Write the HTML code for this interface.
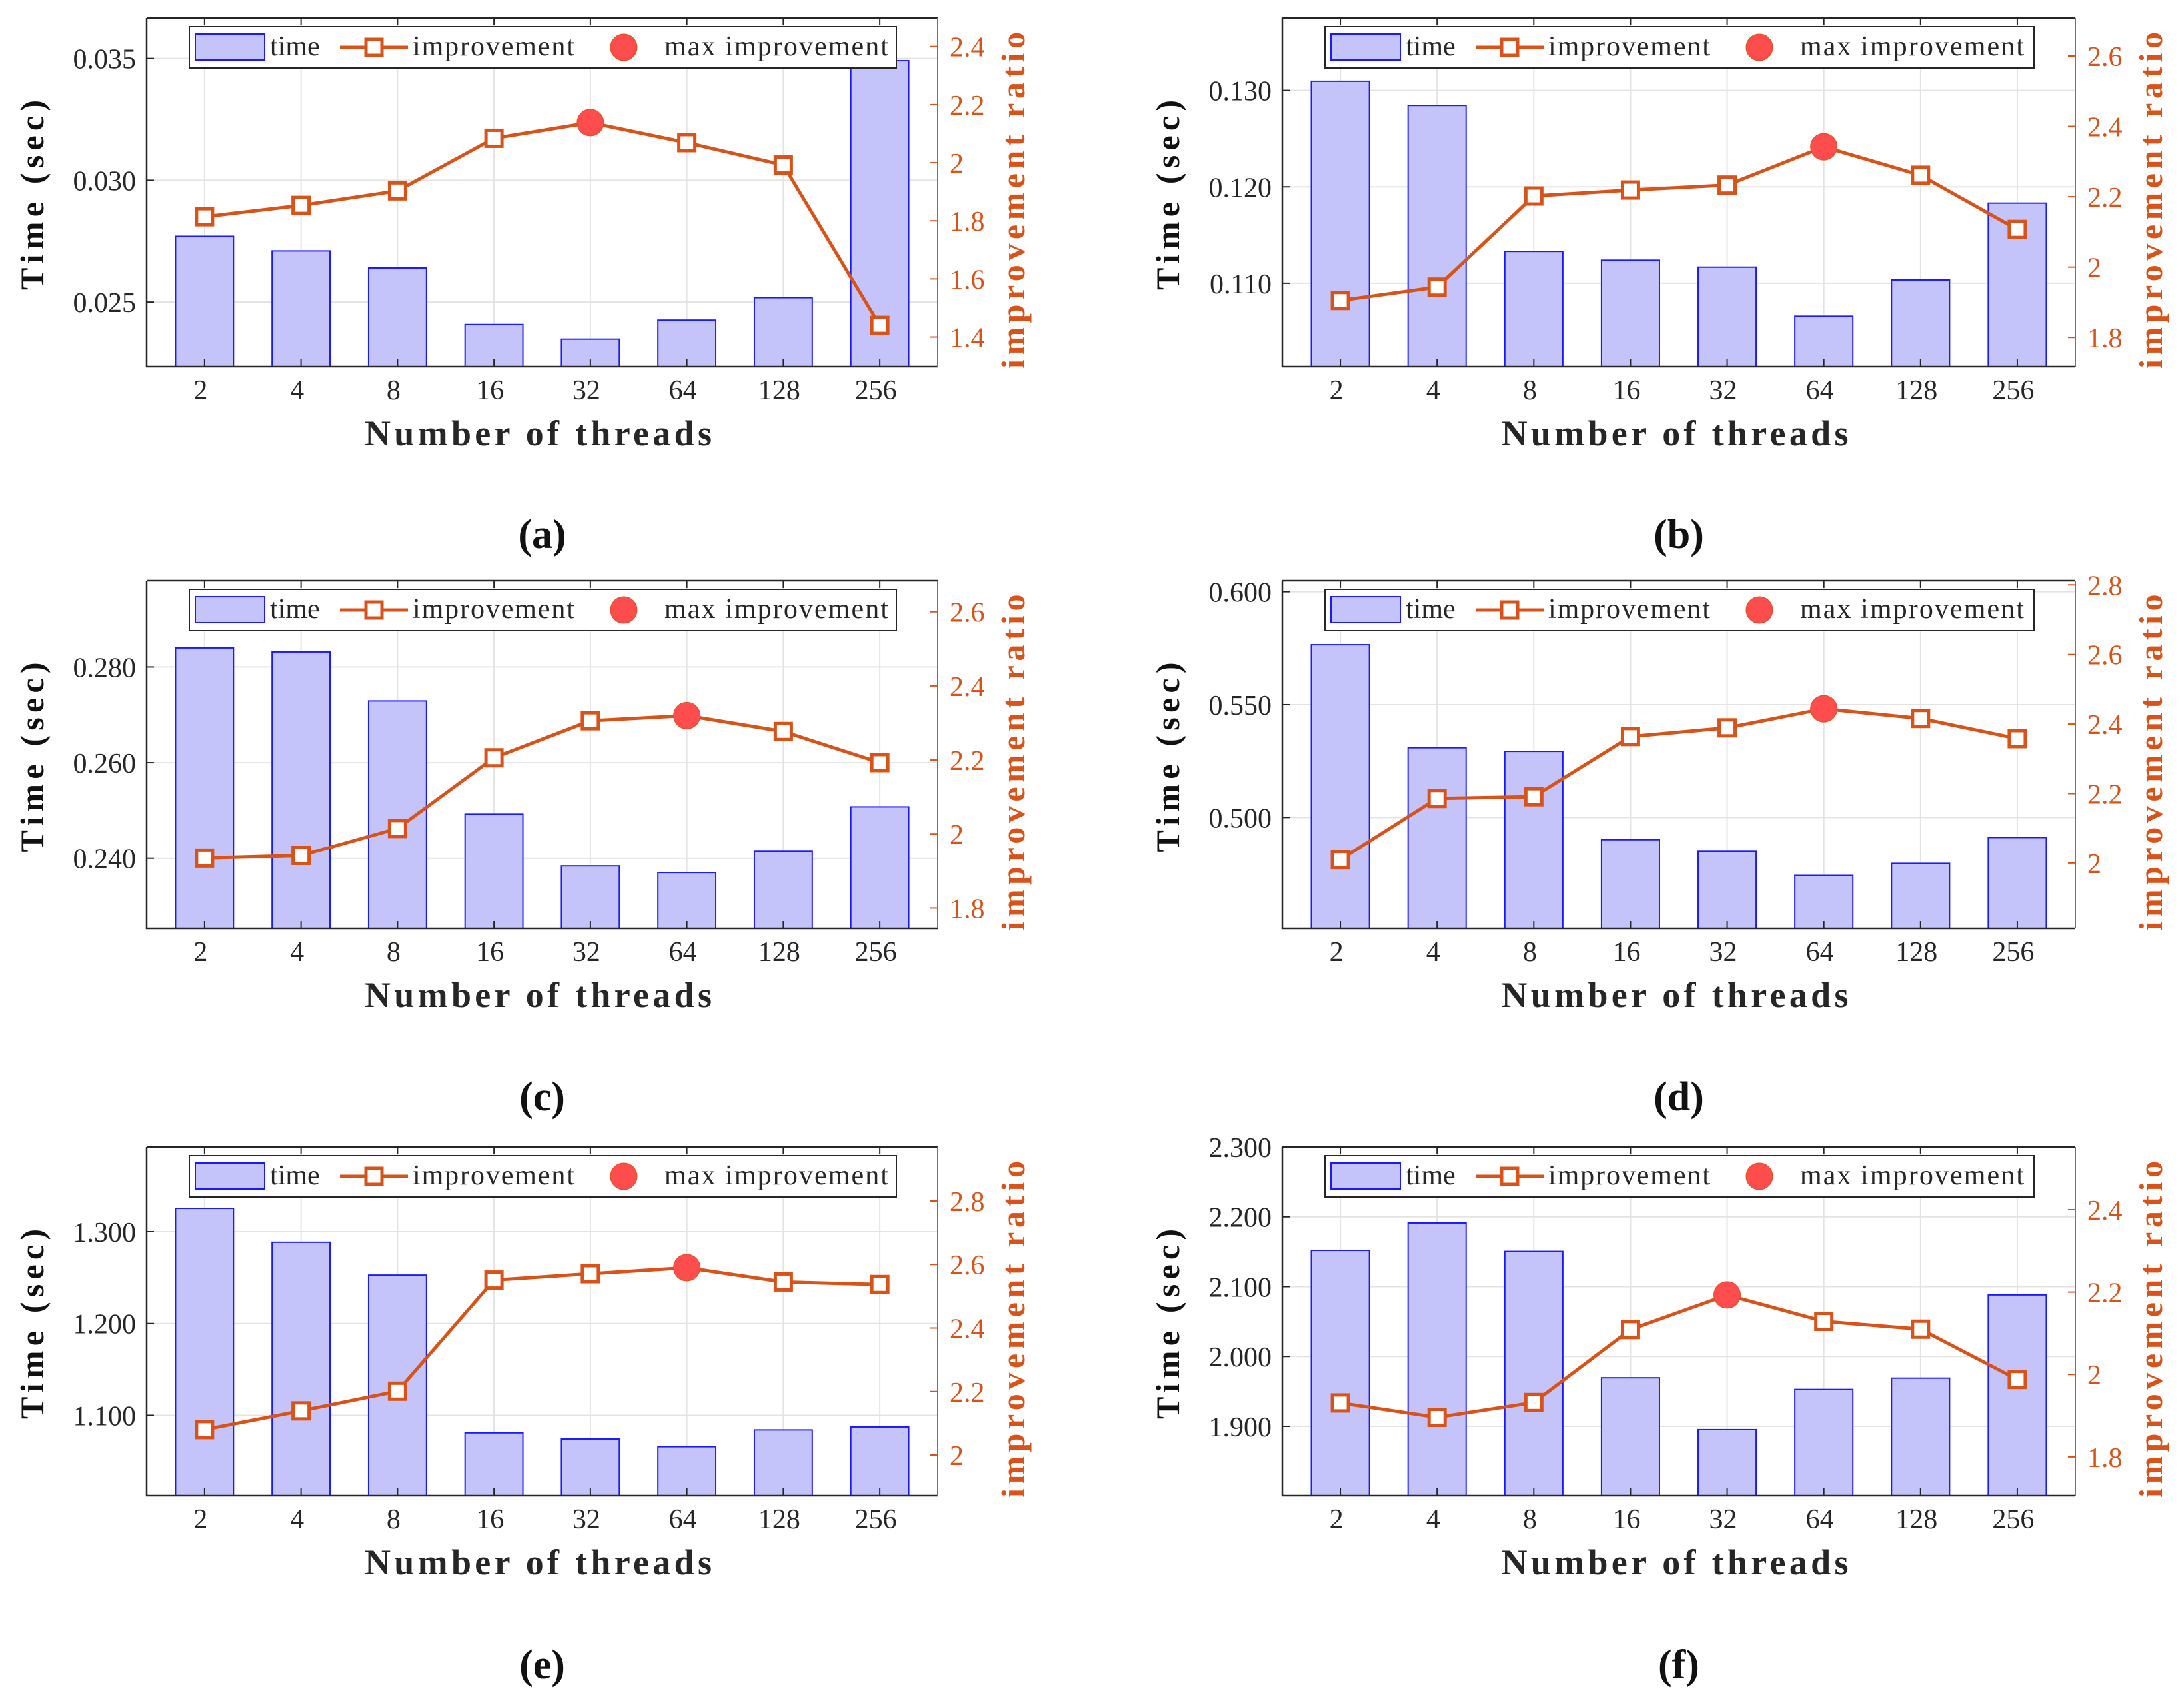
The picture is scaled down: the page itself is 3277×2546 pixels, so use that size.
<!DOCTYPE html>
<html><head><meta charset="utf-8"><style>
html,body{margin:0;padding:0;background:#fff;}
svg{display:block;}
text{font-family:"Liberation Serif",serif;}
</style></head><body>
<svg id="chart" xmlns="http://www.w3.org/2000/svg" width="3277" height="2546" viewBox="0 0 3277 2546"></svg>
<script>
const categories = ["2","4","8","16","32","64","128","256"];
const timeA = [0.02770,0.02710,0.02640,0.02408,0.02348,0.02426,0.02518,0.03491];
const ratioA = [1.814,1.853,1.903,2.084,2.138,2.069,1.992,1.440];
const timeB = [0.13095,0.12844,0.11330,0.11239,0.11167,0.10658,0.11034,0.11831];
const ratioB = [1.905,1.943,2.202,2.219,2.233,2.342,2.261,2.107];
const timeC = [0.28397,0.28313,0.2729,0.24924,0.2384,0.23702,0.24145,0.25076];
const ratioC = [1.935,1.942,2.015,2.206,2.306,2.320,2.277,2.193];
const timeD = [0.57654,0.5309,0.52929,0.49013,0.48495,0.47427,0.47961,0.4911];
const ratioD = [2.010,2.186,2.191,2.364,2.389,2.444,2.416,2.358];
const timeE = [1.3254,1.2885,1.2527,1.0809,1.0742,1.0658,1.0841,1.0873];
const ratioE = [2.080,2.139,2.201,2.551,2.571,2.590,2.545,2.537];
const timeF = [2.152,2.1912,2.1505,1.9695,1.8953,1.9528,1.969,2.0882];
const ratioF = [1.931,1.896,1.932,2.109,2.193,2.129,2.110,1.988];
const leftTicksA=[0.025,0.030,0.035], rightTicksA=[1.4,1.6,1.8,2,2.2,2.4];
const leftTicksB=[0.110,0.120,0.130], rightTicksB=[1.8,2,2.2,2.4,2.6];
const leftTicksC=[0.240,0.260,0.280], rightTicksC=[1.8,2,2.2,2.4,2.6];
const leftTicksD=[0.500,0.550,0.600], rightTicksD=[2,2.2,2.4,2.6,2.8];
const leftTicksE=[1.100,1.200,1.300], rightTicksE=[2,2.2,2.4,2.6,2.8];
const leftTicksF=[1.900,2.000,2.100,2.200,2.300], rightTicksF=[1.8,2,2.2,2.4];

const NS="http://www.w3.org/2000/svg";
const svg=document.getElementById('chart');
function mk(tag,attrs,parent){const e=document.createElementNS(NS,tag);for(const k in attrs)e.setAttribute(k,attrs[k]);(parent||svg).appendChild(e);return e;}
const ORANGE="#d95319";
const panels=[
 {id:'a',L:220,R:1407,T:27,B:550,time:timeA,ratio:ratioA,lt:leftTicksA,rt:rightTicksA,ymin:0.02235,ymax:0.03666,rmin:1.298,rmax:2.498,cap:800},
 {id:'b',L:1924,R:3114,T:27,B:550,time:timeB,ratio:ratioB,lt:leftTicksB,rt:rightTicksB,ymin:0.10135,ymax:0.13751,rmin:1.717,rmax:2.708,cap:800},
 {id:'c',L:220,R:1407,T:871,B:1393,time:timeC,ratio:ratioC,lt:leftTicksC,rt:rightTicksC,ymin:0.22534,ymax:0.29802,rmin:1.745,rmax:2.684,cap:1644},
 {id:'d',L:1924,R:3114,T:871,B:1393,time:timeD,ratio:ratioD,lt:leftTicksD,rt:rightTicksD,ymin:0.4508,ymax:0.6049,rmin:1.812,rmax:2.812,cap:1644},
 {id:'e',L:220,R:1407,T:1721,B:2244,time:timeE,ratio:ratioE,lt:leftTicksE,rt:rightTicksE,ymin:1.0125,ymax:1.3922,rmin:1.872,rmax:2.970,cap:2496},
 {id:'f',L:1924,R:3114,T:1721,B:2244,time:timeF,ratio:ratioF,lt:leftTicksF,rt:rightTicksF,ymin:1.8007,ymax:2.300,rmin:1.706,rmax:2.552,cap:2496}
];
panels.forEach(p=>{
 const g=mk('g',{});
 
 
 const W=p.R-p.L, step=W/8.2;
 const x=i=>p.L+(i+0.6)*step;
 const y=v=>p.B-(v-p.ymin)/(p.ymax-p.ymin)*(p.B-p.T);
 const yr=v=>p.B-(v-p.rmin)/(p.rmax-p.rmin)*(p.B-p.T);
 categories.forEach((c,i)=>{const l=mk('line',{x1:x(i),x2:x(i),y1:p.T,y2:p.B,stroke:'#e3e3e3','stroke-width':2},g);});
 p.lt.forEach(v=>{const l=mk('line',{x1:p.L,x2:p.R,y1:y(v),y2:y(v),stroke:'#e3e3e3','stroke-width':2},g);});
 const bw=step*0.6;
 p.time.forEach((v,i)=>{
  const r=mk('rect',{x:x(i)-bw/2,y:y(v),width:bw,height:p.B-y(v),fill:'#c4c4fa',stroke:'#1a1aff','stroke-width':2},g);
  
  
 });
 const ax=mk('path',{d:`M${p.L},${p.T}H${p.R}M${p.L},${p.T}V${p.B}H${p.R}`,fill:'none',stroke:'#262626','stroke-width':2.5},g);
 
 const rax=mk('line',{x1:p.R,x2:p.R,y1:p.T,y2:p.B,stroke:ORANGE,'stroke-width':2},g);
 
 categories.forEach((c,i)=>{
  mk('line',{x1:x(i),x2:x(i),y1:p.B,y2:p.B-11,stroke:'#262626','stroke-width':2},g);
  mk('line',{x1:x(i),x2:x(i),y1:p.T,y2:p.T+11,stroke:'#262626','stroke-width':2},g);
  const t=mk('text',{x:x(i)-6,y:p.B+49,'text-anchor':'middle','font-size':42,fill:'#262626'},g);
  t.textContent=c;
 });
 p.lt.forEach(v=>{
  mk('line',{x1:p.L,x2:p.L+11,y1:y(v),y2:y(v),stroke:'#262626','stroke-width':2},g);
  const t=mk('text',{x:p.L-16,y:y(v)+15,'text-anchor':'end','font-size':42,fill:'#262626'},g);
  t.textContent=v.toFixed(3);
 });
 p.rt.forEach(v=>{
  mk('line',{x1:p.R,x2:p.R-11,y1:yr(v),y2:yr(v),stroke:ORANGE,'stroke-width':2},g);
  const t=mk('text',{x:p.R+18,y:yr(v)+15,'text-anchor':'start','font-size':42,fill:ORANGE},g);
  t.textContent=(Math.abs(v-Math.round(v))<1e-9)?String(Math.round(v)):v.toFixed(1);
  
 });
 const pts=p.ratio.map((v,i)=>x(i)+','+yr(v)).join(' ');
 const pl=mk('polyline',{points:pts,fill:'none',stroke:ORANGE,'stroke-width':5,'stroke-linejoin':'round'},g);
 
 let mi=0;p.ratio.forEach((v,i)=>{if(v>p.ratio[mi])mi=i;});
 p.ratio.forEach((v,i)=>{
  if(i===mi)return;
  const m=mk('rect',{x:x(i)-12,y:yr(v)-12,width:24,height:24,fill:'#fff',stroke:ORANGE,'stroke-width':5},g);
  
 });
 const mc=mk('circle',{cx:x(mi),cy:yr(p.ratio[mi]),r:20,fill:'#ff4d4d',stroke:ORANGE,'stroke-width':1},g);
 
 const lx=p.L+64, ly=p.T+13;
 const lg=mk('g',{},g);
 mk('rect',{x:lx,y:ly,width:p.R-62-lx,height:62,fill:'#fff',stroke:'#262626','stroke-width':2},lg);
 mk('rect',{x:lx+9,y:ly+11,width:104,height:39,fill:'#c4c4fa',stroke:'#1a1aff','stroke-width':2},lg);
 let t=mk('text',{x:lx+121,y:ly+43,'font-size':42,fill:'#262626'},lg);t.textContent='time';
 mk('line',{x1:lx+226,x2:lx+328,y1:ly+31,y2:ly+31,stroke:ORANGE,'stroke-width':5},lg);
 mk('rect',{x:lx+265,y:ly+19,width:24,height:24,fill:'#fff',stroke:ORANGE,'stroke-width':5},lg);
 t=mk('text',{x:lx+335,y:ly+43,'font-size':42,fill:'#262626',textLength:243},lg);t.textContent='improvement';
 mk('circle',{cx:lx+652,cy:ly+31,r:20,fill:'#ff4d4d',stroke:ORANGE,'stroke-width':1},lg);
 t=mk('text',{x:lx+713,y:ly+43,'font-size':42,fill:'#262626',textLength:336},lg);t.textContent='max improvement';
 const cx=(p.L+p.R)/2;
 t=mk('text',{x:cx-6,y:p.B+118,'text-anchor':'middle','font-size':54,'font-weight':'bold',fill:'#262626',textLength:521},g);
 t.textContent='Number of threads';
 const ly2=(p.T+p.B)/2+4;
 t=mk('text',{x:0,y:0,'text-anchor':'middle','font-size':50,'font-weight':'bold',fill:'#111',textLength:285,transform:`translate(${p.L-155},${ly2}) rotate(-90)`},g);
 t.textContent='Time (sec)';
 t=mk('text',{x:0,y:0,'text-anchor':'middle','font-size':50,'font-weight':'bold',fill:ORANGE,textLength:505,transform:`translate(${p.R+130},${(p.T+p.B)/2+12}) rotate(-90)`},g);
 t.textContent='improvement ratio';
 t=mk('text',{x:cx,y:p.cap+22,'text-anchor':'middle','font-size':62,'font-weight':'bold',fill:'#111'},g);
 t.textContent='('+p.id+')';
});
</script>
</body></html>
